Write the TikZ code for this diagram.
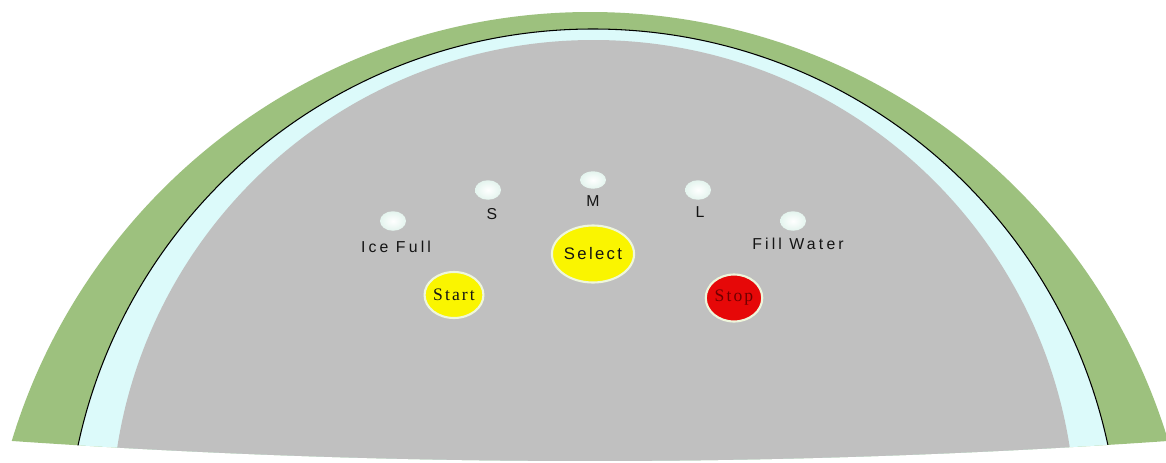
\documentclass[tikz,border=0pt]{standalone}
\usepackage{fontspec}
\setmainfont{Liberation Serif}
\usetikzlibrary{shapes.geometric}
\definecolor{PanelGreen}{HTML}{9DC17E}
\definecolor{PanelCyan}{HTML}{DCFAFA}
\definecolor{PanelGray}{HTML}{C0C0C0}
\definecolor{LedEdge}{HTML}{E4F4EE}
\definecolor{BtnYellow}{HTML}{FAF500}
\definecolor{BtnRed}{HTML}{E60808}
\definecolor{BtnRim}{HTML}{EEF6DC}
\definecolor{LblText}{HTML}{141414}
\definecolor{StopText}{HTML}{700000}
\newfontfamily\lblfont[LetterSpace=20]{Liberation Sans}
\newfontfamily\selfont[LetterSpace=14]{Liberation Sans}
\newfontfamily\btnfont[LetterSpace=12]{Liberation Serif}

\begin{document}
\begin{tikzpicture}[x=0.02cm, y=-0.02cm,
  led/.style={ellipse, inner sep=0pt, minimum width=0.52cm, minimum height=0.39cm,
              inner color=white, outer color=LedEdge},
  btn/.style={ellipse, inner sep=0pt, draw=BtnRim, line width=1.2pt,
              font=\btnfont\fontsize{10}{12}\selectfont},
  lbl/.style={inner sep=0pt, text=LblText, font=\lblfont\fontsize{9}{11}\selectfont}
]
  \fill[white] (0,0) rectangle (1166,463);
  \useasboundingbox (0,0) rectangle (1166,463);
  % panel bands, cut off by the flat bottom edge
  \begin{scope}
    \clip (-20,-50) -- (1200,-50) -- (1200,438.7)
      .. controls (793.3,468.4) and (386.7,468.4) .. (-20,438.7) -- cycle;
    \fill[PanelGreen] (590,616) circle[radius=604];
    \filldraw[fill=PanelCyan, draw=black, line width=0.6pt] (593,555.5) circle[radius=526.5];
    \fill[PanelGray] (593.5,522) circle[radius=482];
  \end{scope}
  % indicator lamps
  \node[led] (ledice)  at (393,221) {};
  \node[led] (leds)    at (488,190) {};
  \node[led, minimum height=0.35cm] (ledm) at (593,180) {};
  \node[led] (ledl)    at (698,190) {};
  \node[led] (ledfill) at (793,221) {};
  \node[lbl] (lblice)  at (396,247) {Ice Full};
  \node[lbl] (lbls)    at (492,214) {S};
  \node[lbl] (lblm)    at (593,201) {M};
  \node[lbl] (lbll)    at (700,212) {L};
  \node[lbl] (lblfill) at (798,244) {Fill Water};
  % push buttons
  \node[btn, fill=BtnYellow, minimum width=1.56cm, minimum height=1.14cm,
        font=\selfont\fontsize{9.5}{11}\selectfont, text=LblText] (select) at (593,254) {Select};
  \node[btn, fill=BtnYellow, minimum width=1.08cm, minimum height=0.92cm,
        text=LblText] (start) at (454,295) {Start};
  \node[btn, fill=BtnRed, minimum width=1.13cm, minimum height=0.94cm,
        text=StopText] (stop) at (734,298) {Stop};
\end{tikzpicture}
\end{document}
